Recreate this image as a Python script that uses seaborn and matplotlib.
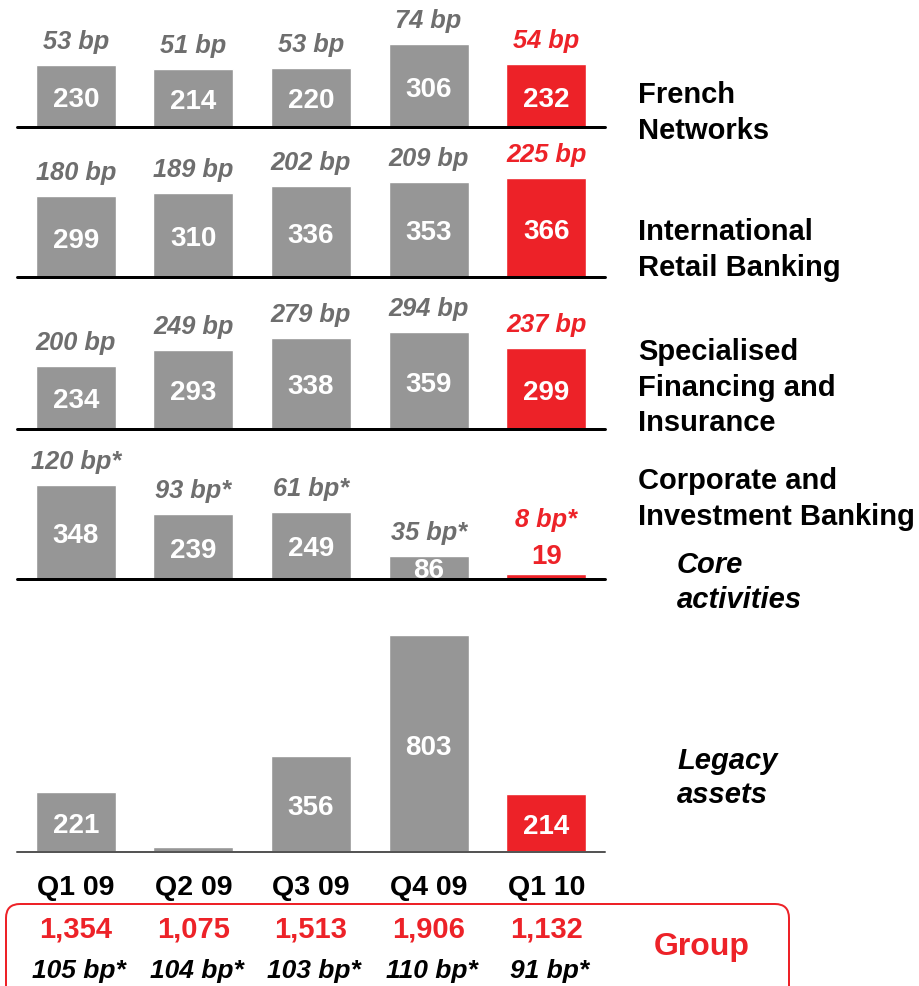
import numpy as np
import seaborn as sns
import matplotlib.pyplot as plt
from matplotlib.patches import FancyBboxPatch


# quarterly cost of risk (EUR m) by business line, plus cost in bp
quarters = ['Q1 09', 'Q2 09', 'Q3 09', 'Q4 09', 'Q1 10']

french_networks = [230, 214, 220, 306, 232]
french_networks_bp = [53, 51, 53, 74, 54]

intl_retail = [299, 310, 336, 353, 366]
intl_retail_bp = [180, 189, 202, 209, 225]

spec_financing = [234, 293, 338, 359, 299]
spec_financing_bp = [200, 249, 279, 294, 237]

cib_core = [348, 239, 249, 86, 19]
cib_core_bp = [120, 93, 61, 35, 8]

legacy_assets = [221, 19, 356, 803, 214]

group_total = [1354, 1075, 1513, 1906, 1132]
group_bp = [105, 104, 103, 110, 91]

GREY = '#969696'
RED = '#ED2228'
BP_GREY = '#6E6E6E'
DPI = 100
W, H = 919, 987
K = 0.27  # pixels per EUR m, same scale on every panel


def pt(p):
    # pixel offset -> points
    return p * 72.0 / DPI


sns.set_theme(style='white')
plt.rcParams['font.family'] = ['Liberation Sans', 'DejaVu Sans']

fig = plt.figure(figsize=(W / DPI, H / DPI), dpi=DPI)
colors = [GREY] * 4 + [RED]


def panel(baseline, height, values, bp=None, star=False, line_color='black',
          line_w=3, small_label=None, hide=()):
    ax = fig.add_axes([17 / W, (H - baseline) / H, 588 / W, height / H])
    sns.barplot(x=quarters, y=values, hue=quarters, palette=colors,
                legend=False, width=0.68, saturation=1, ax=ax)
    ax.set_xlim(-0.5, 4.5)
    ax.set_ylim(0, height / K)
    ax.set_axis_off()
    ax.axhline(0, color=line_color, lw=pt(line_w), clip_on=False, zorder=5)
    for i, v in enumerate(values):
        top_extra = 0
        if i in hide:
            pass
        elif i == small_label:
            ax.annotate(str(v), (i, v), xytext=(0, pt(11)),
                        textcoords='offset points', ha='center',
                        va='baseline', color=colors[i], fontsize=20,
                        fontweight='bold', annotation_clip=False)
            top_extra = 31
        else:
            ax.annotate(str(v), (i, v / 2), xytext=(0, -pt(10)),
                        textcoords='offset points', ha='center',
                        va='baseline', color='white', fontsize=20,
                        fontweight='bold', annotation_clip=False)
        if bp is not None:
            s = '%d bp' % bp[i] + ('*' if star else '')
            ax.annotate(s, (i, v), xytext=(0, pt(17 + top_extra)),
                        textcoords='offset points', ha='center',
                        va='baseline', fontsize=18.3, fontweight='bold',
                        fontstyle='italic',
                        color=RED if i == 4 else BP_GREY,
                        annotation_clip=False)
    return ax


panel(128, 120, french_networks, french_networks_bp)
panel(278, 120, intl_retail, intl_retail_bp)
panel(430, 120, spec_financing, spec_financing_bp)
panel(580, 120, cib_core, cib_core_bp, star=True, small_label=4)
ax_leg = panel(853, 240, legacy_assets, line_color='#555555', line_w=2,
               hide=(1,))

# quarter labels and group totals under the last panel
for i, q in enumerate(quarters):
    ax_leg.annotate(q, (i, 0), xytext=(0, -pt(42)), textcoords='offset points',
                    ha='center', va='baseline', fontsize=20.5,
                    fontweight='bold', color='black', annotation_clip=False)
    ax_leg.annotate('{:,}'.format(group_total[i]), (i, 0),
                    xytext=(0, -pt(85)), textcoords='offset points',
                    ha='center', va='baseline', fontsize=21,
                    fontweight='bold', color=RED, annotation_clip=False)
    ax_leg.annotate('%d bp*' % group_bp[i], (i, 0), xytext=(pt(3), -pt(125)),
                    textcoords='offset points', ha='center', va='baseline',
                    fontsize=19, fontweight='bold', fontstyle='italic',
                    color='black', annotation_clip=False)

# overlay in pixel coordinates for the side labels and the group box
ov = fig.add_axes([0, 0, 1, 1], zorder=-1)
ov.set_xlim(0, W)
ov.set_ylim(H, 0)
ov.set_axis_off()

side = [
    ('French', 103), ('Networks', 139),
    ('International', 240), ('Retail Banking', 276),
    ('Specialised', 360), ('Financing and', 396), ('Insurance', 431),
    ('Corporate and', 489), ('Investment Banking', 525),
]
for s, y in side:
    ov.text(638, y, s, fontsize=21, fontweight='bold', va='baseline',
            ha='left', color='black')
for s, y in [('Core', 573), ('activities', 608), ('Legacy', 769),
             ('assets', 803)]:
    ov.text(677, y, s, fontsize=21, fontweight='bold', fontstyle='italic',
            va='baseline', ha='left', color='black')

box = FancyBboxPatch((6, 905), 783, 110, boxstyle='round,pad=0,rounding_size=14',
                     fc='none', ec=RED, lw=pt(2))
ov.add_patch(box)
ov.text(702, 947, 'Group', fontsize=23, fontweight='bold', color=RED,
        ha='center', va='center')

fig.savefig('out.png', dpi=DPI)
